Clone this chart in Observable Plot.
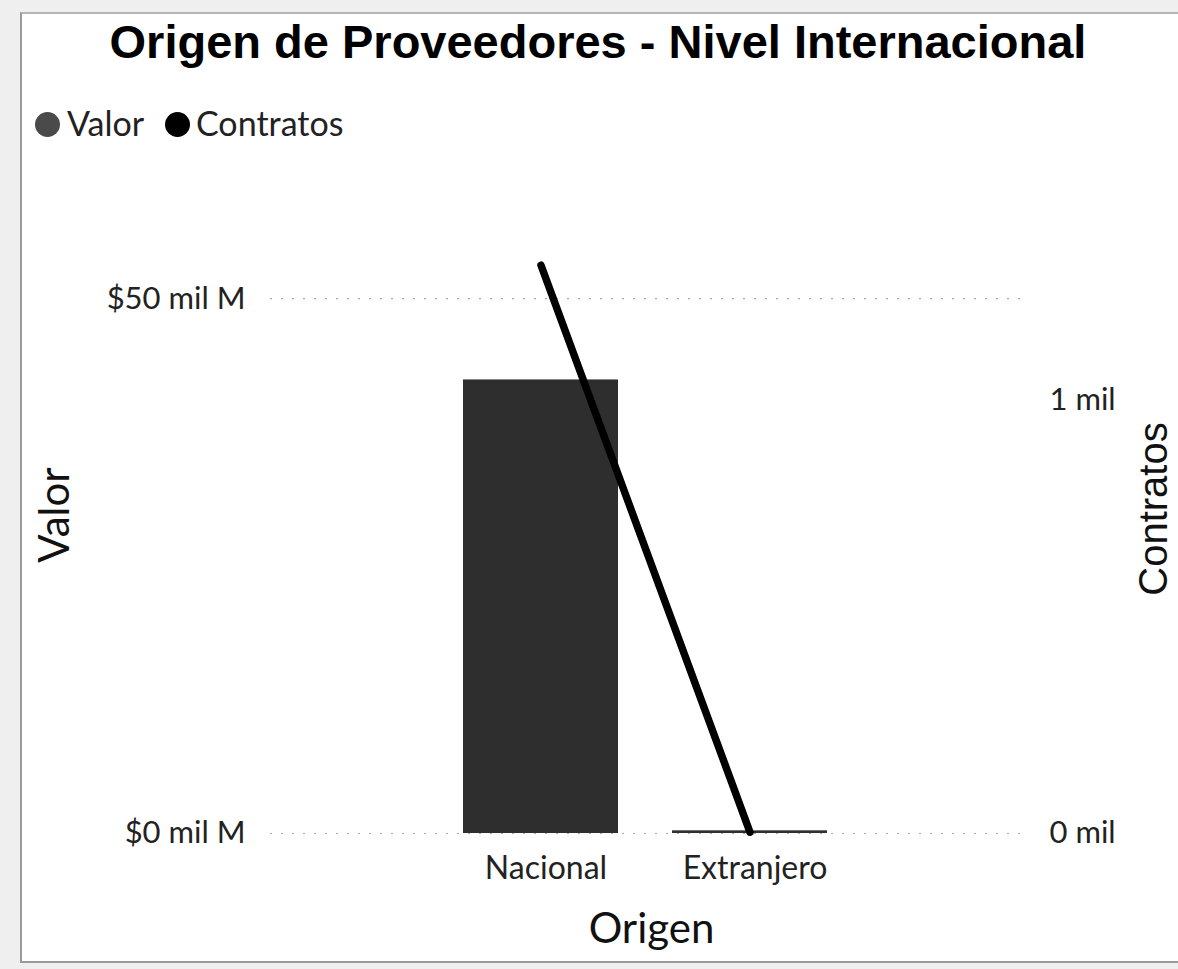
<!DOCTYPE html>
<html>
<head>
<meta charset="utf-8">
<script src="https://cdn.jsdelivr.net/npm/d3@7"></script>
<script src="https://cdn.jsdelivr.net/npm/@observablehq/plot@0.6"></script>
<style>
  html, body { margin: 0; padding: 0; background: #fff; overflow: hidden; }
  #wrap { position: relative; width: 1178px; height: 969px; overflow: hidden; background: #efefef; font-family: Lato, "Noto Sans", sans-serif; color: #222; }
  #panel { position: absolute; left: 20px; top: 12px; width: 1170px; height: 947px; background: #fff; border-left: 2px solid #9a9a9a; border-top: 2px solid #b5b5b5; border-bottom: 2px solid #9a9a9a; }
  #title { position: absolute; left: 0; top: 18px; width: 1196px; text-align: center; font: bold 47px "Liberation Sans", Arial, sans-serif; line-height: 1; color: #000; white-space: nowrap; }
  .ldot { position: absolute; width: 25px; height: 25px; border-radius: 50%; }
  .ltxt { position: absolute; font-size: 34px; line-height: 1; color: #222; white-space: nowrap; }
  #chart { position: absolute; left: 0; top: 170px; }
</style>
</head>
<body>
<div id="wrap">
  <div id="panel"></div>
  <div id="title"></div>
  <div id="legend"></div>
  <div id="chart"></div>
</div>
<script>
// ---- data ----
const chartTitle = "Origen de Proveedores - Nivel Internacional";
const categories = ["Nacional", "Extranjero"];
const valor = [42.4, 0.25];          // $ mil M
const contratos = [1312, 3];         // contratos
const leftTicks = [0, 50];
const rightTicks = [0, 1000];
const seriesNames = ["Valor", "Contratos"];
const seriesColors = ["#2e2e2e", "#000000"];

// ---- layout ----
document.getElementById("title").textContent = chartTitle;

const legend = document.getElementById("legend");
const legendPos = [{dot: 35, txt: 67}, {dot: 165, txt: 196}];
seriesNames.forEach((name, i) => {
  const d = document.createElement("div");
  d.className = "ldot";
  d.style.left = legendPos[i].dot + "px";
  d.style.top = "112px";
  d.style.background = i === 0 ? "#4a4a4a" : seriesColors[i];
  legend.appendChild(d);
  const t = document.createElement("div");
  t.className = "ltxt";
  t.style.left = legendPos[i].txt + "px";
  t.style.top = "106px";
  t.textContent = name;
  legend.appendChild(t);
});

const data = categories.map((c, i) => ({origen: c, valor: valor[i], contratos: contratos[i]}));

const yMax = 54.5;      // left axis top ($ mil M)
const rMax = 1346;      // right axis top (contratos)
const k = yMax / rMax;  // contratos -> left units

const chart = Plot.plot({
  width: 1178,
  height: 799,
  marginTop: 80,
  marginBottom: 136,
  marginLeft: 270,
  marginRight: 158,
  style: {fontFamily: "Lato, 'Noto Sans', sans-serif", color: "#222", background: "transparent", overflow: "visible"},
  x: {domain: categories, paddingInner: 0.26, paddingOuter: 0.92},
  y: {domain: [0, yMax], nice: false},
  marks: [
    Plot.ruleY(leftTicks, {stroke: "#a8a8a8", strokeDasharray: "2,9", strokeWidth: 1.2}),
    Plot.barY(data, {x: "origen", y: "valor", fill: seriesColors[0]}),
    Plot.line(data, {x: "origen", y: d => d.contratos * k, stroke: seriesColors[1], strokeWidth: 7.5, strokeLinecap: "round"}),
    Plot.axisY(leftTicks, {anchor: "left", tickSize: 0, tickPadding: 25, fontSize: 31, tickFormat: d => `$${d} mil M`, label: null}),
    Plot.axisY(rightTicks.map(d => d * k), {anchor: "right", tickSize: 0, tickPadding: 29, fontSize: 31, tickFormat: d => `${Math.round(d / k / 1000)} mil`, label: null}),
    Plot.axisX({anchor: "bottom", tickSize: 0, tickPadding: 23, fontSize: 32, dx: 5, label: null}),
    Plot.text(["Valor"], {frameAnchor: "left", textAnchor: "middle", dx: -215, dy: -27, rotate: -90, fontSize: 42, fill: "#111"}),
    Plot.text(["Contratos"], {frameAnchor: "right", textAnchor: "middle", dx: 134, dy: -33, rotate: -90, fontSize: 40, fontFamily: "'Liberation Sans', Arial, sans-serif", fill: "#111"}),
    Plot.text(["Origen"], {frameAnchor: "bottom", textAnchor: "middle", dx: 6, dy: 109, lineAnchor: "bottom", fontSize: 42, fill: "#111"})
  ]
});
document.getElementById("chart").appendChild(chart);
</script>
</body>
</html>
